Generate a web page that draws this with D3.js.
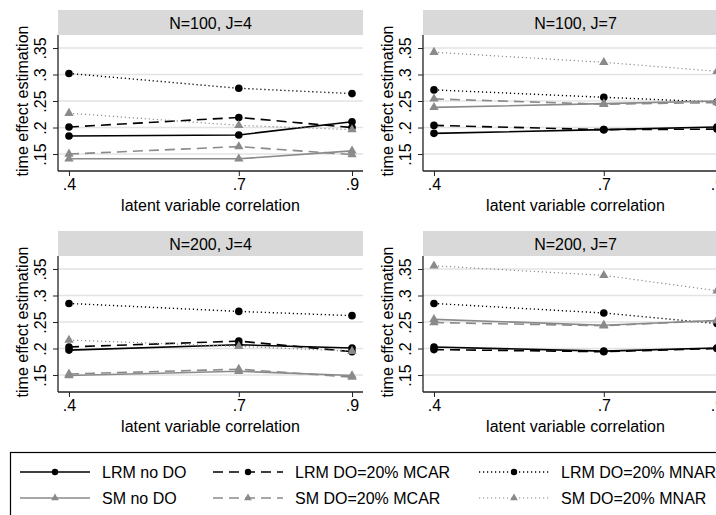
<!DOCTYPE html>
<html>
<head>
<meta charset="utf-8">
<script src="https://cdn.jsdelivr.net/npm/d3@7"></script>
<style>
body { margin: 0; background: #fff; }
text { font-family: "Liberation Sans", Arial, sans-serif; }
</style>
</head>
<body>
<div id="chart"></div>
<script>
// chart size
var chart_width = 716;
var chart_height = 515;

// data
var correlations = [0.4, 0.7, 0.9];
var panelTitles = ["N=100, J=4", "N=100, J=7", "N=200, J=4", "N=200, J=7"];
var yTicks = [0.15, 0.2, 0.25, 0.3, 0.35];
var yTickLabels = [".15", ".2", ".25", ".3", ".35"];
var xTickLabels = [".4", ".7", ".9"];

// one row per panel, values at .4 .7 .9
var lrmNoDO   = [[0.184, 0.186, 0.211], [0.189, 0.196, 0.201], [0.197, 0.207, 0.201], [0.203, 0.195, 0.201]];
var lrmMCAR   = [[0.201, 0.219, 0.200], [0.204, 0.196, 0.197], [0.203, 0.214, 0.194], [0.198, 0.194, 0.200]];
var lrmMNAR   = [[0.302, 0.274, 0.264], [0.271, 0.257, 0.248], [0.285, 0.270, 0.262], [0.285, 0.267, 0.247]];
var smNoDO    = [[0.141, 0.141, 0.156], [0.238, 0.245, 0.250], [0.149, 0.157, 0.149], [0.255, 0.244, 0.253]];
var smMCAR    = [[0.150, 0.164, 0.149], [0.254, 0.244, 0.247], [0.152, 0.161, 0.146], [0.249, 0.243, 0.253]];
var smMNAR    = [[0.227, 0.204, 0.196], [0.342, 0.323, 0.306], [0.216, 0.204, 0.195], [0.356, 0.338, 0.309]];

var seriesNames = ["LRM no DO", "LRM DO=20% MCAR", "LRM DO=20% MNAR",
                   "SM no DO", "SM DO=20% MCAR", "SM DO=20% MNAR"];
var seriesValues = [lrmNoDO, lrmMCAR, lrmMNAR, smNoDO, smMCAR, smMNAR];

// styles
var black = "#000";
var gray = "#8a8a8a";
var styles = [
  {color: black, dash: null, width: 1.6, marker: "circle"},
  {color: black, dash: "10,6", width: 1.6, marker: "circle"},
  {color: black, dash: "1.2,2.8", width: 1.4, marker: "circle"},
  {color: gray, dash: null, width: 1.6, marker: "triangle"},
  {color: gray, dash: "10,6", width: 1.6, marker: "triangle"},
  {color: gray, dash: "1.2,2.8", width: 1.2, marker: "triangle"}
];

// layout
var plot_w = 305, plot_h = 136, strip_h = 25;
var panelX = [58, 423, 58, 423];
var panelY = [35, 35, 256, 256];

var x = d3.scaleLinear().domain([0.3806, 0.9194]).range([0, plot_w]);
var y = d3.scaleLinear().domain([0.118, 0.3745]).range([plot_h, 0]);

var svg = d3.select("#chart")
  .append("svg")
  .attr("width", chart_width)
  .attr("height", chart_height);

svg.append("rect").attr("width", chart_width).attr("height", chart_height).attr("fill", "#fff");

var tri = d3.symbol().type(d3.symbolTriangle).size(38);
var triSmall = d3.symbol().type(d3.symbolTriangle).size(26);

function drawMarker(g, cx, cy, st, small) {
  if (st.marker === "circle") {
    g.append("circle").attr("cx", cx).attr("cy", cy).attr("r", small ? 3.2 : 3.8).attr("fill", st.color);
  } else {
    g.append("path").attr("d", small ? triSmall() : tri())
      .attr("transform", "translate(" + cx + "," + cy + ")")
      .attr("fill", st.color);
  }
}

panelTitles.forEach(function(title, p) {
  var g = svg.append("g").attr("transform", "translate(" + panelX[p] + "," + panelY[p] + ")");

  // strip
  g.append("rect").attr("x", 0).attr("y", -strip_h).attr("width", plot_w).attr("height", strip_h)
    .attr("fill", "#d9d9d9");
  g.append("text").attr("x", plot_w / 2).attr("y", -strip_h / 2 + 6)
    .attr("text-anchor", "middle").attr("font-size", 16).text(title);

  // gridlines
  g.selectAll(".grid").data(yTicks).enter().append("line")
    .attr("x1", 0).attr("x2", plot_w)
    .attr("y1", function(d) { return y(d); }).attr("y2", function(d) { return y(d); })
    .attr("stroke", "#e3e3e3").attr("stroke-width", 1.5);

  // y axis
  var yAxis = d3.axisLeft(y).tickValues(yTicks).tickSize(5)
    .tickFormat(function(d, i) { return yTickLabels[i]; });
  var ya = g.append("g").call(yAxis);
  ya.select(".domain").attr("d", "M0,0V" + plot_h).attr("stroke", "#222").attr("stroke-width", 1.3);
  ya.selectAll(".tick line").attr("stroke", "#222");
  ya.selectAll(".tick text")
    .attr("font-size", 16).attr("fill", "#000")
    .attr("x", 0).attr("dy", 0)
    .attr("text-anchor", "middle")
    .attr("transform", "translate(-12,0) rotate(-90)");

  // x axis
  var xAxis = d3.axisBottom(x).tickValues(correlations).tickSize(5)
    .tickFormat(function(d, i) { return xTickLabels[i]; });
  var xa = g.append("g").attr("transform", "translate(0," + plot_h + ")").call(xAxis);
  xa.select(".domain").attr("d", "M0,0H" + plot_w).attr("stroke", "#222").attr("stroke-width", 1.3);
  xa.selectAll(".tick line").attr("stroke", "#222");
  xa.selectAll(".tick text").attr("font-size", 16).attr("fill", "#000").attr("y", 8).attr("dy", "0.71em");

  // axis titles
  g.append("text").attr("x", plot_w / 2).attr("y", plot_h + 40)
    .attr("text-anchor", "middle").attr("font-size", 16).text("latent variable correlation");
  g.append("text")
    .attr("transform", "translate(-30," + (plot_h / 2 - 2) + ") rotate(-90)")
    .attr("text-anchor", "middle").attr("font-size", 16).text("time effect estimation");

  // series
  var line = d3.line().x(function(d, i) { return x(correlations[i]); }).y(function(d) { return y(d); });
  seriesValues.forEach(function(vals, s) {
    var st = styles[s];
    g.append("path").datum(vals[p]).attr("d", line)
      .attr("fill", "none").attr("stroke", st.color).attr("stroke-width", st.width)
      .attr("stroke-dasharray", st.dash);
    vals[p].forEach(function(v, i) {
      drawMarker(g, x(correlations[i]), y(v), st, false);
    });
  });
});

// legend
var legend = svg.append("g");
legend.append("rect").attr("x", 10.5).attr("y", 452.5).attr("width", 730).attr("height", 70)
  .attr("fill", "#fff").attr("stroke", "#000").attr("stroke-width", 1.2);

var legCols = [20, 213, 479];
var legRows = [472, 498];
seriesNames.forEach(function(name, s) {
  var col = s % 3, row = Math.floor(s / 3);
  var st = styles[s];
  var lx = legCols[col], ly = legRows[row];
  legend.append("line").attr("x1", lx).attr("x2", lx + 70).attr("y1", ly).attr("y2", ly)
    .attr("stroke", st.color).attr("stroke-width", st.width).attr("stroke-dasharray", st.dash);
  drawMarker(legend, lx + 35, ly, st, true);
  legend.append("text").attr("x", lx + 82).attr("y", ly + 6).attr("font-size", 16).text(name);
});
</script>
</body>
</html>
